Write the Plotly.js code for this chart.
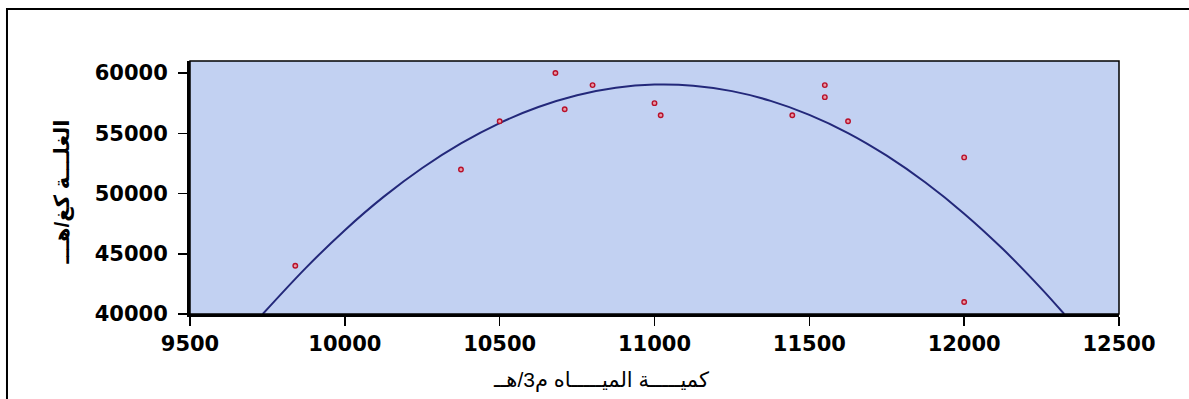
<!DOCTYPE html>
<html>
<head>
<meta charset="utf-8">
<script src="https://cdn.plot.ly/plotly-3.0.1.min.js"></script>
<style>
html,body{margin:0;padding:0;background:#fff;}
#chart{width:1189px;height:399px;}
</style>
</head>
<body>
<div id="chart"></div>
<script>
// Observed points (water quantity m3/ha, yield kg/ha)
const waterObs = [9840, 10375, 10500, 10680, 10710, 10800, 11000, 11020, 11445, 11550, 11550, 11625, 12000, 12000];
const yieldObs = [44000, 52000, 56000, 60000, 57000, 59000, 57500, 56500, 56500, 59000, 58000, 56000, 53000, 41000];

// Fitted curve, values
const waterFit = [9735, 9875, 10000, 10125, 10250, 10375, 10500, 10625, 10750, 10875, 11000, 11125, 11250, 11375, 11500, 11625, 11750, 11875, 12000, 12125, 12250, 12323];
const yieldFit = [40000, 43850, 46960, 49720, 52120, 54160, 55850, 57180, 58160, 58780, 59040, 58950, 58500, 57690, 56530, 55020, 53140, 50910, 48330, 45390, 42090, 40000];

const xTicks = [9500, 10000, 10500, 11000, 11500, 12000, 12500];
const yTicks = [40000, 45000, 50000, 55000, 60000];

const xTitle = 'كميـــــة الميـــــاه م3/هــ';
const yTitle = 'الغلـــة كغ/هـــ';

const tickFont = {family: 'DejaVu Sans, Arial, sans-serif', size: 21, color: '#000', weight: 'bold'};

const traces = [
  {
    x: waterFit, y: yieldFit, type: 'scatter', mode: 'lines',
    line: {color: '#23287A', width: 2, shape: 'spline', smoothing: 1},
    hoverinfo: 'skip', showlegend: false, cliponaxis: true
  },
  {
    x: waterObs, y: yieldObs, type: 'scatter', mode: 'markers',
    marker: {symbol: 'circle', size: 4.5, color: '#e79aa6', line: {color: '#B8102A', width: 1.4}},
    showlegend: false
  }
];

const layout = {
  width: 1189, height: 399,
  margin: {l: 190, r: 70, t: 61, b: 85},
  paper_bgcolor: '#ffffff',
  plot_bgcolor: '#C2D1F2',
  showlegend: false,
  xaxis: {
    range: [9500, 12500], tickvals: xTicks, ticktext: xTicks.map(String),
    showgrid: false, zeroline: false,
    showline: true, linecolor: '#000', linewidth: 3, mirror: false,
    ticks: 'outside', ticklen: 9, tickwidth: 1.5, tickcolor: '#000',
    tickfont: tickFont, ticklabelstandoff: 0
  },
  yaxis: {
    range: [40000, 61000], tickvals: yTicks, ticktext: yTicks.map(String),
    showgrid: false, zeroline: false,
    showline: true, linecolor: '#000', linewidth: 3, mirror: false,
    ticks: 'outside', ticklen: 9, tickwidth: 1.5, tickcolor: '#000',
    tickfont: tickFont, ticklabelstandoff: 6
  },
  shapes: [
    {type: 'rect', xref: 'paper', yref: 'paper', x0: 0, x1: 1, y0: 0, y1: 1,
     line: {color: '#000', width: 1.5}, layer: 'above'},
    {type: 'path', xref: 'paper', yref: 'paper',
     path: 'M -0.197 -0.5 L -0.197 1.2055 L 1.2 1.2055',
     line: {color: '#000', width: 2}}
  ],
  annotations: [
    {text: xTitle, xref: 'paper', yref: 'paper', x: (601 - 190) / 929, y: (314 - 380) / 253,
     xanchor: 'center', yanchor: 'middle', showarrow: false,
     font: {family: 'Arial, Liberation Sans, DejaVu Sans, sans-serif', size: 21, color: '#000'}},
    {text: yTitle, xref: 'paper', yref: 'paper', x: (62 - 190) / 929, y: 0.48,
     xanchor: 'center', yanchor: 'middle', showarrow: false, textangle: -90,
     font: {family: 'Arial, Liberation Sans, DejaVu Sans, sans-serif', size: 21, color: '#000', weight: 'bold'}}
  ]
};

Plotly.newPlot('chart', traces, layout, {displayModeBar: false, staticPlot: true});
</script>
</body>
</html>
